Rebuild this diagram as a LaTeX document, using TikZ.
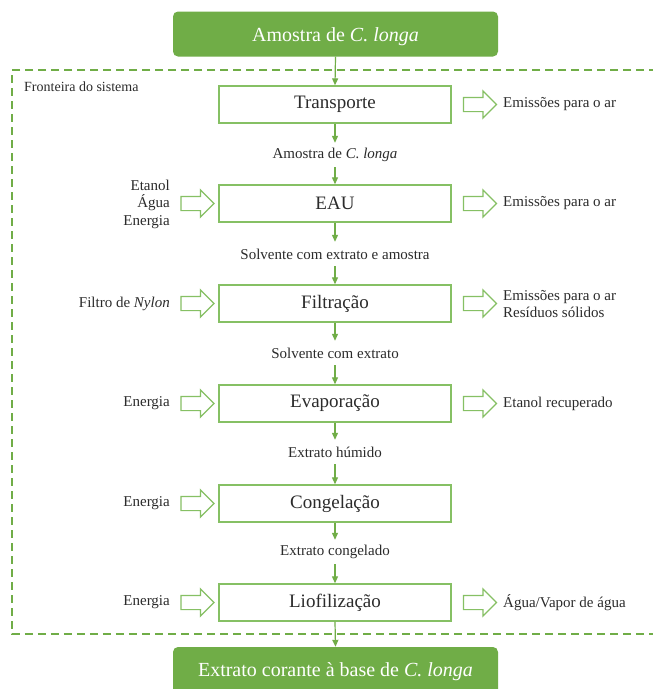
\documentclass[tikz,border=0pt]{standalone}
\usepackage{fontspec}
\setmainfont{Liberation Serif}
\usetikzlibrary{shapes.arrows,arrows.meta}
\definecolor{leaf}{HTML}{70AD47}
\definecolor{leaflight}{HTML}{86C064}
\definecolor{ink}{HTML}{2B2B2B}
\tikzset{
  endbox/.style={fill=leaf, rounded corners=5pt, minimum width=325pt, minimum height=45pt, text=white, font=\fontsize{20}{22}\selectfont, inner sep=0pt},
  procbox/.style={draw=leaflight, line width=1.4pt, minimum width=232pt, minimum height=37pt, text=ink, font=\fontsize{19}{21}\selectfont, inner sep=0pt},
  flowlbl/.style={text=ink, font=\fontsize{15}{17}\selectfont, inner sep=0pt, minimum height=24pt},
  sidelbl/.style={text=ink, font=\fontsize{15}{17.5}\selectfont, inner sep=0pt},
  blockarrow/.style={single arrow, draw=leaflight, line width=1.2pt, minimum height=33pt, minimum width=26pt, inner xsep=0pt, inner ysep=6.5pt, single arrow head extend=6.5pt, single arrow head indent=0pt},
  flow/.style={draw=leaf, line width=1.2pt, -{Triangle[length=7pt,width=6pt]}},
  boundary/.style={draw=leaf, line width=1.3pt, dash pattern=on 8pt off 5pt}
}
\begin{document}
\begin{tikzpicture}[x=1pt,y=-1pt]
\clip (0,0) rectangle (653,689);
\useasboundingbox (0,0) rectangle (653,689);
\fill[white] (0,0) rectangle (653,689);

% system boundary
\draw[boundary] (670,70) -- (12,70) -- (12,634) -- (670,634);
\node[sidelbl, font=\fontsize{14}{16}\selectfont, anchor=west] (fronteira) at (24,87) {Fronteira do sistema};

% input and output products (text baseline set below the box centre)
\node[endbox] (amostra) at (335.5,34) {\raisebox{-7pt}[0pt][0pt]{Amostra de \textit{C. longa}}};
\node[endbox, minimum height=54pt] (extrato) at (335.5,674) {\raisebox{-2pt}[0pt][0pt]{Extrato corante à base de \textit{C. longa}}};

% process steps
\node[procbox] (transp) at (335,104.5) {Transporte};
\node[procbox] (eau)    at (335,203.5) {EAU};
\node[procbox] (filt)   at (335,303.5) {Filtração};
\node[procbox] (evap)   at (335,403.5) {Evaporação};
\node[procbox] (cong)   at (335,503.5) {Congelação};
\node[procbox] (liof)   at (335,602.5) {Liofilização};

% intermediate streams
\node[flowlbl] (s1) at (335,155) {Amostra de \textit{C. longa}};
\node[flowlbl] (s2) at (335,254) {Solvente com extrato e amostra};
\node[flowlbl] (s3) at (335,353) {Solvente com extrato};
\node[flowlbl] (s4) at (335,452) {Extrato húmido};
\node[flowlbl] (s5) at (335,552) {Extrato congelado};

\draw[flow] (amostra.south) -- (transp.north);
\draw[flow] (transp.south) -- (s1.north);
\draw[flow] (s1.south) -- (eau.north);
\draw[flow] (eau.south) -- (s2.north);
\draw[flow] (s2.south) -- (filt.north);
\draw[flow] (filt.south) -- (s3.north);
\draw[flow] (s3.south) -- (evap.north);
\draw[flow] (evap.south) -- (s4.north);
\draw[flow] (s4.south) -- (cong.north);
\draw[flow] (cong.south) -- (s5.north);
\draw[flow] (s5.south) -- (liof.north);
\draw[flow] (liof.south) -- (extrato.north);

% inputs on the left
\node[blockarrow] (ia2) at (194,203.5) {};
\node[blockarrow] (ia3) at (194,303.5) {};
\node[blockarrow] (ia4) at (194,403.5) {};
\node[blockarrow] (ia5) at (194,503.5) {};
\node[blockarrow] (ia6) at (194,602.5) {};
\node[sidelbl, anchor=east, align=right] (in2) at (170,204) {Etanol\\Água\\Energia};
\node[sidelbl, anchor=east] (in3) at (170,303.5) {Filtro de \textit{Nylon}};
\node[sidelbl, anchor=east] (in4) at (170,403.5) {Energia};
\node[sidelbl, anchor=east] (in5) at (170,503.5) {Energia};
\node[sidelbl, anchor=east] (in6) at (170,602.5) {Energia};

% outputs on the right
\node[blockarrow] (oa1) at (476.5,104.5) {};
\node[blockarrow] (oa2) at (476.5,203.5) {};
\node[blockarrow] (oa3) at (476.5,303.5) {};
\node[blockarrow] (oa4) at (476.5,403.5) {};
\node[blockarrow] (oa6) at (476.5,602.5) {};
\node[sidelbl, anchor=west] (out1) at (503,104.5) {Emissões para o ar};
\node[sidelbl, anchor=west] (out2) at (503,203.5) {Emissões para o ar};
\node[sidelbl, anchor=west, align=left] (out3) at (503,304) {Emissões para o ar\\Resíduos sólidos};
\node[sidelbl, anchor=west] (out4) at (503,403.5) {Etanol recuperado};
\node[sidelbl, anchor=west] (out6) at (503,602.5) {Água/Vapor de água};
\end{tikzpicture}
\end{document}
